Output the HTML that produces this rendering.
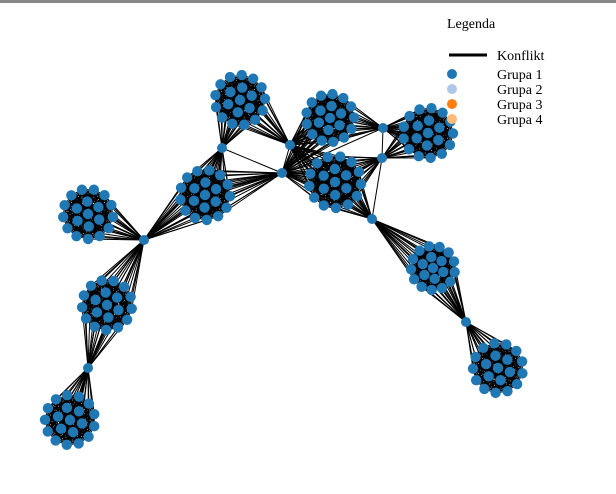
<!DOCTYPE html>
<html><head><meta charset="utf-8"><style>
body{margin:0;background:#fff}
svg{display:block}
text{font-family:"Liberation Serif",serif;font-size:14px;fill:#000}
</style></head><body>
<svg width="616" height="494" viewBox="0 0 616 494">
<rect x="0" y="0" width="616" height="3" fill="#888"/>
<g id="edges"></g>
<g id="nodes"></g>
<g>
<text x="447" y="28">Legenda</text>
<line x1="449" y1="55" x2="487" y2="55" stroke="#000" stroke-width="3"/>
<text x="497" y="60">Konflikt</text>
<circle cx="452" cy="74" r="5" fill="#1f77b4"/>
<text x="497" y="79">Grupa 1</text>
<circle cx="452" cy="89" r="5" fill="#aec7e8"/>
<text x="497" y="94">Grupa 2</text>
<circle cx="452" cy="104" r="5" fill="#ff7f0e"/>
<text x="497" y="109">Grupa 3</text>
<circle cx="452" cy="119" r="5" fill="#ffbb78"/>
<text x="497" y="124">Grupa 4</text>
</g>
</svg>
<script>
const clusterNames=["A","B","C","D","E","F","G","H","I","J"];
const clusterX=[240,330,428,205,335,88,107,433,498,70];
const clusterY=[100,118,133,195,182,214,305,268,368,420];
const clusterR=[25,24,25,25,26,25,25,22,25,25];
const hubNames=["h1","h2","h3","h4","h5","h6","h7","h8","h9"];
const hubX=[222,290,282,383,382,372,144,88,466];
const hubY=[148,145,173,128,158,219,240,368,322];
const hubClusterLinks=[["A","D"],["A","B","E"],["D","E","B"],["B","C"],["C","E"],["E","H"],["D","F","G"],["G","J"],["H","I"]];
const hubHubLinks=[["h1","h3"],["h1","h7"],["h2","h3"],["h4","h5"],["h5","h6"],["h3","h4"]];
const ringCounts=[1,6,13];
const ringFrac=[0,0.5,1];
const NS="http://www.w3.org/2000/svg";
const eg=document.getElementById('edges'),ng=document.getElementById('nodes');
const clusterNodes={};
clusterNames.forEach((c,i)=>{
  const pts=[];
  ringCounts.forEach((n,k)=>{for(let j=0;j<n;j++){const a=j/n*2*Math.PI+k*0.7+i;pts.push([clusterX[i]+Math.cos(a)*clusterR[i]*ringFrac[k],clusterY[i]+Math.sin(a)*clusterR[i]*ringFrac[k]]);}});
  clusterNodes[c]=pts;
});
const hubPos={};hubNames.forEach((h,i)=>hubPos[h]=[hubX[i],hubY[i]]);
function line(p,q){const l=document.createElementNS(NS,'line');


l.setAttribute('x1',p[0]);l.setAttribute('y1',p[1]);l.setAttribute('x2',q[0]);l.setAttribute('y2',q[1]);
l.setAttribute('stroke','#000');l.setAttribute('stroke-width','1');eg.appendChild(l);}
clusterNames.forEach(c=>{const p=clusterNodes[c];for(let i=0;i<p.length;i++)for(let j=i+1;j<p.length;j++)line(p[i],p[j]);});
hubNames.forEach((h,i)=>hubClusterLinks[i].forEach(c=>clusterNodes[c].forEach(p=>line(hubPos[h],p))));
hubHubLinks.forEach(([a,b])=>line(hubPos[a],hubPos[b]));
function dot(p,r){const c=document.createElementNS(NS,'circle');


c.setAttribute('cx',p[0]);c.setAttribute('cy',p[1]);c.setAttribute('r',r);c.setAttribute('fill','#1f77b4');ng.appendChild(c);}
clusterNames.forEach(c=>clusterNodes[c].forEach(p=>dot(p,5.2)));
hubNames.forEach(h=>dot(hubPos[h],5));
</script>
</body></html>
